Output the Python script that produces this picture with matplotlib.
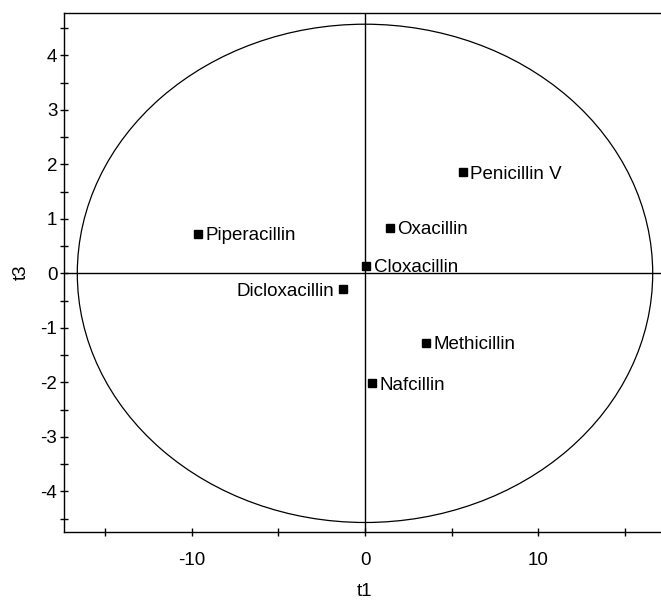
import matplotlib
matplotlib.use("Agg")
import matplotlib.pyplot as plt
from matplotlib.patches import Ellipse
from matplotlib.ticker import MultipleLocator

plt.rcParams['font.family'] = ['Liberation Sans', 'DejaVu Sans']
plt.rcParams['axes.unicode_minus'] = False

# Score plot: t1 vs t3 for the penicillin set
names = ["Penicillin V", "Oxacillin", "Piperacillin", "Cloxacillin",
         "Dicloxacillin", "Methicillin", "Nafcillin"]
t1 = [5.64, 1.44, -9.62, 0.06, -1.29, 3.52, 0.42]
t3 = [1.85, 0.84, 0.73, 0.14, -0.29, -1.27, -2.02]
label_left = ["Dicloxacillin"]

# Hotelling T2 ellipse semi-axes
ell_t1 = 16.6
ell_t3 = 4.57

FS = 13.5

fig = plt.figure(figsize=(6.61, 6.05), dpi=100)
ax = fig.add_axes([64.3 / 661, (605 - 532.3) / 605,
                   (665.7 - 64.3) / 661, (532.3 - 13.3) / 605])
ax.set_xlim(-17.35, 17.35)
ax.set_ylim(-4.75, 4.77)

ax.add_patch(Ellipse((0, 0), 2 * ell_t1, 2 * ell_t3, fill=False,
                     edgecolor='black', linewidth=0.9))
ax.axhline(0, color='black', linewidth=1.0)
ax.axvline(0, color='black', linewidth=1.0)

ax.plot(t1, t3, linestyle='none', marker='s', markersize=5.2,
        color='black')
for n, x, y in zip(names, t1, t3):
    if n in label_left:
        ax.annotate(n, (x, y), xytext=(-6, -4.8), textcoords='offset points',
                    ha='right', va='baseline', fontsize=FS)
    else:
        ax.annotate(n, (x, y), xytext=(5.5, -4.8), textcoords='offset points',
                    ha='left', va='baseline', fontsize=FS)

ax.xaxis.set_major_locator(MultipleLocator(10))
ax.xaxis.set_minor_locator(MultipleLocator(5))
ax.yaxis.set_major_locator(MultipleLocator(1))
ax.yaxis.set_minor_locator(MultipleLocator(0.5))
ax.tick_params(which='both', direction='inout', length=6, width=1.0,
               top=False, right=False)
ax.tick_params(axis='x', which='major', pad=11, labelsize=FS)
ax.tick_params(axis='y', which='major', pad=2, labelsize=FS)
for s in ax.spines.values():
    s.set_linewidth(1.0)

fig.text(365 / 661, 1 - 592 / 605, "t1", ha='center', va='center', fontsize=FS)
fig.text(21 / 661, 1 - 272 / 605, "t3", ha='center', va='center',
         rotation=90, fontsize=FS)

fig.savefig("out.png", dpi=100)
